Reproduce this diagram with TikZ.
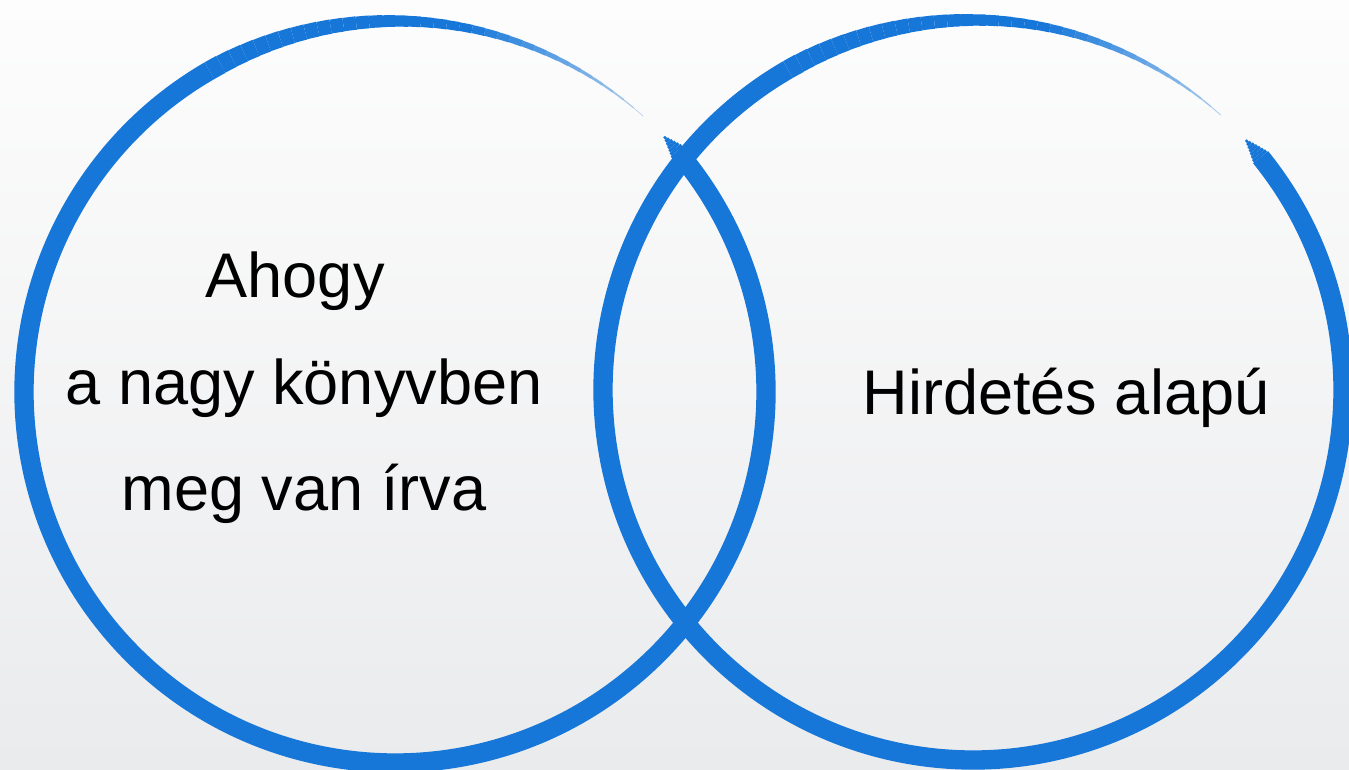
\documentclass[tikz,border=0pt]{standalone}
\usepackage{fontspec}
\setmainfont{Liberation Sans}
\definecolor{ringblue}{RGB}{22,119,217}
\definecolor{bgtop}{RGB}{253,253,253}
\definecolor{bgbottom}{RGB}{234,235,237}

\begin{document}
\begin{tikzpicture}[x=0.02cm,y=0.02cm]
    \tikzstyle{ringtext} = [draw=none,fill=none,text=black,
        font=\fontsize{35.9}{60.7}\selectfont]
    \tikzstyle{ring} = [draw=ringblue,line width=11pt]

    \shade[top color=bgtop,bottom color=bgbottom] (0,0) rectangle (1349,769);
    \useasboundingbox (0,0) rectangle (1349,769);

    \coordinate (lc) at (395,377);
    \coordinate (rc) at (973,379);

    % left ring
    \draw[ring] ([shift={(40:371)}]lc) arc[start angle=40,end angle=-240,radius=371];
    \foreach \a [evaluate=\a as \lw using {11*(\a-48)/72},
                 evaluate=\a as \op using {min(1,0.3+0.7*(\a-48)/32)}] in {120,118,...,50}
        \draw[ring,line width=\lw pt,draw opacity=\op]
            ([shift={(\a:371)}]lc) arc[start angle=\a,end angle=\a-2,radius=371];
    \foreach \a [evaluate=\a as \lw using {11*(44-\a)/4}] in {43.5,43,...,40.5}
        \draw[ring,line width=\lw pt]
            ([shift={(\a:371)}]lc) arc[start angle=\a,end angle=\a-0.5,radius=371];

    % right ring
    \draw[ring] ([shift={(39:370)}]rc) arc[start angle=39,end angle=-240,radius=370];
    \foreach \a [evaluate=\a as \lw using {11*(\a-47)/73},
                 evaluate=\a as \op using {min(1,0.3+0.7*(\a-47)/33)}] in {120,118,...,49}
        \draw[ring,line width=\lw pt,draw opacity=\op]
            ([shift={(\a:370)}]rc) arc[start angle=\a,end angle=\a-2,radius=370];
    \foreach \a [evaluate=\a as \lw using {11*(43-\a)/4}] in {42.5,42,...,39.5}
        \draw[ring,line width=\lw pt]
            ([shift={(\a:370)}]rc) arc[start angle=\a,end angle=\a-0.5,radius=370];

    \node[ringtext,align=center] (bookway) at (304,381)
        {Ahogy\hspace*{0.28em}\\a nagy könyvben\\meg van írva};
    \node[ringtext,anchor=base] (adbased) at (1066,355) {Hirdetés alapú};

\end{tikzpicture}
\end{document}
